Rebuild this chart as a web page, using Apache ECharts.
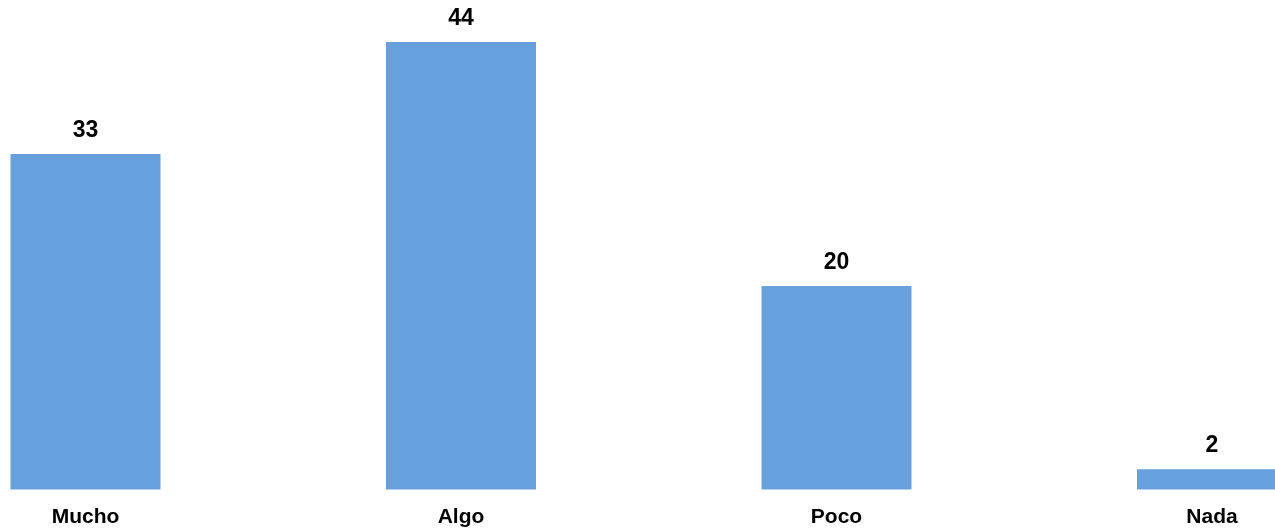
<!DOCTYPE html>
<html><head><meta charset="utf-8">
<script src="https://cdn.jsdelivr.net/npm/echarts@6/dist/echarts.min.js"></script>
<style>html,body{margin:0;padding:0;background:#fff}#c{width:1275px;height:531px}</style>
</head><body><div id="c"></div>
<script>
const categories = ['Mucho', 'Algo', 'Poco', 'Nada'];
const values = [33, 44, 20, 2];

const chart = echarts.init(document.getElementById('c'));
chart.setOption({
  animation: false,
  grid: { left: 85.5, right: 63, top: 42, bottom: 41.5 },
  xAxis: {
    type: 'category', data: categories, boundaryGap: false,
    axisLine: { show: false }, axisTick: { show: false },
    axisLabel: { margin: 17, fontFamily: 'Liberation Sans, Arial, sans-serif', fontWeight: 'bold', fontSize: 21, color: '#000' }
  },
  yAxis: { type: 'value', min: 0, max: 44, show: false, splitLine: { show: false } },
  series: [{
    type: 'bar', data: values, barWidth: 150, clip: false,
    itemStyle: { color: '#66A1DD' },
    label: { show: true, position: 'top', distance: 12, fontFamily: 'Liberation Sans Narrow, Arial Narrow, Liberation Sans, sans-serif', fontWeight: 'bold', fontSize: 23, color: '#000' }
  }]
});
</script></body></html>
